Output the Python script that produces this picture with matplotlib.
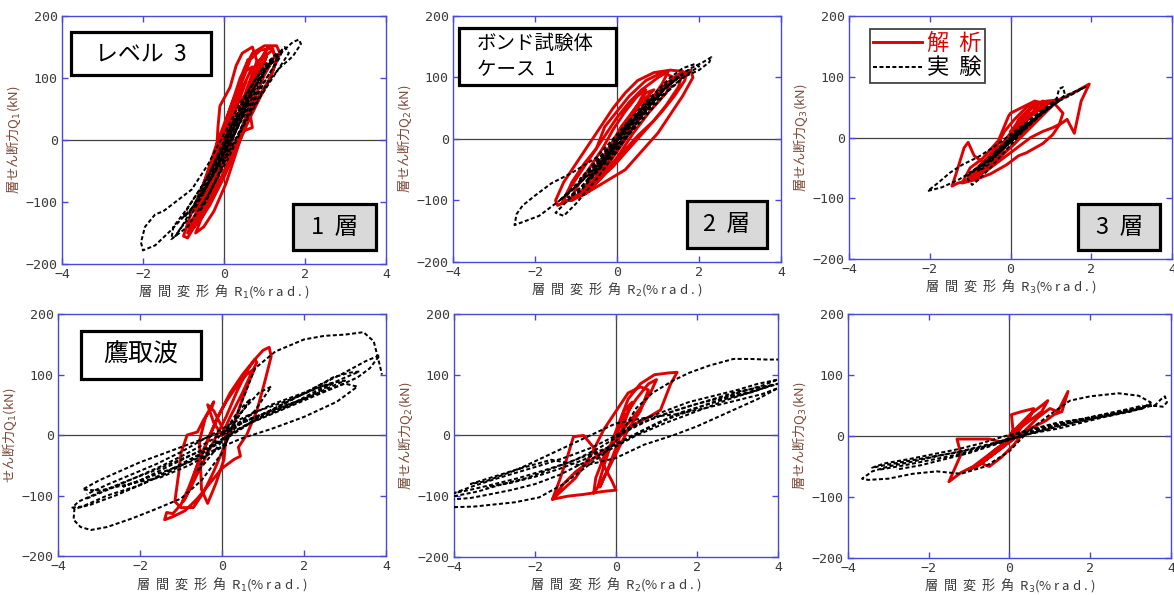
import matplotlib
matplotlib.use('Agg')
import matplotlib.pyplot as plt
from matplotlib.patches import Rectangle

plt.rcParams['font.family'] = ['Noto Sans CJK JP', 'DejaVu Sans']

x_ticks = [-4, -2, 0, 2, 4]
y_ticks = [-200, -100, 0, 100, 200]

# レベル3 / 1層
p1_red = [(0, 0), (0.25, 45), (0.5, 90), (0.7, 118), (0.55, 112), (0.2, 60), (-0.2, -10), (-0.5, -70),
          (-0.7, -115), (-0.55, -112), (-0.2, -60), (0.2, 10), (0.6, 85), (0.9, 130), (1.1, 150), (1.0, 140),
          (0.7, 90), (0.4, 40), (0.1, -20), (-0.3, -80), (-0.6, -125), (-0.9, -158), (-1.0, -155), (-0.85, -125),
          (-0.5, -70), (-0.2, -20), (0.1, 40), (0.4, 100), (0.7, 140), (1.0, 152), (1.3, 152), (1.38, 140),
          (1.1, 95), (0.8, 65), (0.65, 40), (0.7, 20), (0.5, 15), (0.2, -10), (-0.1, -50), (-0.4, -90),
          (-0.7, -120), (-0.9, -140), (-0.75, -135), (-0.45, -95), (-0.2, -40), (-0.15, 20), (-0.1, 55),
          (0.15, 85), (0.3, 120), (0.45, 140), (0.7, 150), (0.85, 120), (0.75, 80), (0.55, 40), (0.3, -5),
          (0.0, -50), (-0.3, -95), (-0.6, -130), (-0.8, -145), (-0.6, -120), (-0.3, -75), (0.0, -25), (0.3, 30),
          (0.55, 80), (0.8, 125), (1.2, 145), (1.3, 130), (1.15, 100), (0.9, 70), (0.6, 30), (0.3, -15),
          (0.0, -60), (-0.35, -105), (-0.65, -135), (-0.5, -120), (-0.2, -70), (0.1, -10), (0.35, 40),
          (0.5, 70), (0.35, 60), (0.1, 20), (-0.2, -30), (-0.45, -80), (-0.3, -70), (0.0, -20)]
p1_red_b = [(0.0, -30), (0.3, 20), (0.6, 70), (0.9, 110), (1.05, 135), (0.95, 120), (0.75, 90), (0.5, 50),
            (0.25, 10), (-0.05, -40), (-0.35, -90), (-0.6, -125), (-0.75, -140), (-0.9, -150), (-0.8, -135),
            (-0.55, -95), (-0.3, -50), (-0.05, 0), (0.2, 50), (0.45, 95), (0.65, 130), (0.9, 145), (1.2, 148),
            (1.25, 135), (1.0, 105), (0.8, 75), (0.55, 30), (0.3, -20), (0.05, -70), (-0.25, -115), (-0.5, -140),
            (-0.7, -150), (-0.55, -125), (-0.3, -80), (-0.1, -30), (0.1, 20), (0.3, 70), (0.5, 110), (0.6, 130),
            (0.5, 115), (0.3, 75), (0.1, 30), (-0.15, -20), (-0.4, -75), (-0.55, -105), (-0.4, -85),
            (-0.15, -40), (0.1, 10), (0.35, 60), (0.55, 95), (0.4, 80), (0.2, 35), (0.0, -10), (-0.25, -55),
            (-0.35, -75), (-0.2, -50), (0.0, 0)]
p1_black = [(0, 0), (0.5, 60), (1.0, 110), (1.4, 140), (1.7, 158), (1.85, 162), (1.9, 155), (1.7, 135),
            (1.4, 118), (1.1, 95), (0.6, 40), (0.2, -10), (-0.3, -60), (-0.8, -110), (-1.3, -145), (-1.7, -170),
            (-2.0, -178), (-2.05, -165), (-1.95, -140), (-1.7, -120), (-1.5, -115), (-1.2, -100), (-0.8, -80),
            (-0.4, -40), (0.0, 10), (0.4, 60), (0.8, 100), (1.2, 130), (1.5, 150), (1.6, 140), (1.3, 110),
            (0.9, 70), (0.5, 25), (0.1, -30), (-0.4, -90), (-0.9, -140), (-1.3, -160), (-1.25, -140),
            (-0.9, -110), (-0.4, -60), (0.0, -10), (0.4, 40), (0.8, 90), (1.1, 120), (1.3, 130), (1.2, 115),
            (0.9, 85), (0.5, 40), (0.1, -10), (-0.3, -60), (-0.7, -105), (-1.0, -125), (-0.9, -110),
            (-0.5, -70), (-0.1, -20), (0.3, 30), (0.7, 80), (1.0, 115), (0.95, 100), (0.6, 55), (0.2, 5),
            (-0.2, -45), (-0.6, -90), (-0.5, -85), (-0.1, -35), (0.3, 15), (0.6, 60), (0.5, 55), (0.2, 15),
            (-0.2, -35), (-0.4, -60), (-0.2, -40), (0.1, 0), (0.35, 40), (0.2, 25), (0.0, 0)]
p1_black_core = [(0, 0), (0.3, 40), (0.6, 80), (0.9, 110), (1.2, 130), (1.0, 110), (0.7, 75), (0.4, 35),
                 (0.1, -5), (-0.2, -45), (-0.5, -85), (-0.8, -120), (-1.1, -145), (-1.2, -155), (-1.0, -135),
                 (-0.7, -100), (-0.4, -60), (-0.1, -15), (0.2, 25), (0.5, 65), (0.8, 100), (1.0, 120), (1.3, 140),
                 (1.45, 145), (1.35, 130), (1.1, 105), (0.8, 70), (0.5, 30), (0.2, -10), (-0.1, -50), (-0.4, -90),
                 (-0.6, -115), (-0.45, -100), (-0.2, -65), (0.05, -25), (0.3, 15), (0.55, 55), (0.75, 85),
                 (0.6, 70), (0.35, 35), (0.1, -5), (-0.15, -40), (-0.3, -60), (-0.15, -40), (0.1, 0)]

# レベル3 / 2層
p2_red = [(0, 0), (0.3, 30), (0.6, 60), (0.9, 80), (0.7, 75), (0.3, 35), (-0.1, -10), (-0.5, -50), (-0.8, -80),
          (-0.6, -78), (-0.2, -40), (0.3, 10), (0.8, 60), (1.2, 90), (1.5, 105), (1.8, 112), (1.85, 100),
          (1.6, 70), (1.3, 40), (1.0, 10), (0.6, -20), (0.2, -50), (-0.3, -70), (-0.8, -90), (-1.2, -100),
          (-1.45, -108), (-1.5, -100), (-1.3, -70), (-1.0, -40), (-0.7, -10), (-0.4, 20), (-0.1, 50), (0.2, 75),
          (0.5, 95), (0.9, 108), (1.3, 112), (1.6, 110), (1.5, 85), (1.2, 55), (0.9, 30), (0.5, 5), (0.1, -25),
          (-0.3, -55), (-0.7, -85), (-1.1, -100), (-1.3, -100), (-1.1, -70), (-0.8, -40), (-0.5, -15),
          (-0.3, 20), (0.0, 45), (0.3, 70), (0.7, 95), (1.1, 108), (1.4, 100), (1.2, 75), (0.8, 45), (0.4, 10),
          (0.0, -30), (-0.4, -65), (-0.8, -90), (-1.0, -95), (-0.8, -80), (-0.5, -50), (-0.2, -15), (0.1, 20),
          (0.5, 55), (0.8, 70), (0.6, 50), (0.3, 20), (0.0, -15), (-0.3, -50), (-0.6, -70), (-0.4, -50),
          (0.0, -10)]
p2_red_b = [(0, -20), (0.4, 20), (0.8, 55), (1.2, 85), (1.5, 100), (1.7, 108), (1.65, 95), (1.4, 70), (1.1, 45),
            (0.7, 15), (0.3, -15), (-0.1, -45), (-0.5, -70), (-0.9, -90), (-1.2, -100), (-1.35, -105),
            (-1.2, -85), (-0.9, -55), (-0.6, -25), (-0.3, 5), (0.0, 35), (0.3, 60), (0.6, 80), (1.0, 100),
            (1.25, 110), (1.1, 90), (0.8, 60), (0.5, 30), (0.2, 0), (-0.2, -35), (-0.6, -70), (-0.95, -90),
            (-1.15, -100), (-0.95, -75), (-0.65, -45), (-0.35, -15), (-0.1, 15), (0.2, 45), (0.5, 70), (0.7, 80),
            (0.5, 55), (0.2, 25), (-0.1, -10), (-0.4, -45), (-0.7, -65), (-0.5, -45), (-0.2, -15), (0.1, 15),
            (0.3, 35), (0.1, 10), (0, 0)]
p2_black = [(0, 0), (0.6, 45), (1.2, 90), (1.8, 115), (2.1, 125), (2.3, 133), (2.25, 125), (2.0, 112), (1.6, 100),
            (1.0, 65), (0.4, 20), (-0.2, -25), (-0.8, -65), (-1.4, -100), (-1.9, -125), (-2.3, -135), (-2.5, -140),
            (-2.45, -122), (-2.3, -108), (-2.0, -92), (-1.6, -72), (-1.1, -55), (-0.5, -30), (0.1, 15), (0.7, 60),
            (1.3, 100), (1.6, 115), (1.9, 122), (2.0, 118), (1.7, 105), (1.2, 75), (0.6, 30), (0.0, -15),
            (-0.6, -60), (-1.2, -100), (-1.5, -120), (-1.3, -125), (-1.0, -105), (-0.5, -65), (0.0, -20),
            (0.5, 30), (1.0, 70), (1.4, 95), (1.5, 100), (1.2, 85), (0.7, 45), (0.2, 0), (-0.3, -40), (-0.9, -85),
            (-1.2, -95), (-0.9, -80), (-0.4, -40), (0.1, 5), (0.6, 50), (0.9, 70), (0.6, 45), (0.1, 0),
            (-0.4, -45), (-0.7, -65), (-0.4, -40), (0.0, 0), (0.3, 30), (0.1, 10), (0.0, 0)]
p2_black_core = [(0, 0), (0.4, 30), (0.8, 60), (1.2, 85), (1.6, 105), (1.3, 90), (0.9, 65), (0.5, 35), (0.1, 5),
                 (-0.3, -25), (-0.7, -55), (-1.1, -80), (-1.4, -100), (-1.2, -90), (-0.8, -65), (-0.4, -35),
                 (0.0, -5), (0.4, 25), (0.8, 55), (1.1, 75), (0.9, 65), (0.5, 40), (0.1, 10), (-0.3, -20),
                 (-0.7, -50), (-0.9, -65), (-0.6, -45), (-0.2, -15), (0.2, 15), (0.6, 45), (0.4, 30), (0, 0)]

# レベル3 / 3層
p3_red = [(0, 0), (0.3, 25), (0.6, 45), (0.9, 58), (0.6, 55), (0.2, 25), (-0.2, -10), (-0.6, -40), (-0.9, -60),
          (-0.7, -58), (-0.3, -30), (0.1, 5), (0.5, 35), (0.9, 55), (1.3, 65), (1.6, 75), (1.95, 88), (1.75, 60),
          (1.58, 7), (1.4, 30), (1.28, 24), (1.04, 16), (0.8, 10), (0.5, 0), (0.2, -15), (-0.2, -35), (-0.6, -55),
          (-1.0, -70), (-1.3, -75), (-1.45, -80), (-1.35, -60), (-1.15, -17), (-1.05, -8), (-0.9, -30),
          (-0.6, -45), (-0.3, -30), (0.0, 0), (0.2, 30), (0.5, 50), (0.8, 60), (1.1, 55), (1.3, 40), (1.2, 20),
          (1.05, 5), (0.8, -10), (0.45, -23), (0.4, -25), (0.2, -30), (-0.1, -45), (-0.5, -60), (-0.9, -70),
          (-1.2, -75), (-1.0, -50), (-0.7, -35), (-0.3, -5), (-0.05, 35), (0.0, 40), (0.3, 50), (0.6, 60),
          (0.9, 55), (0.7, 35), (0.4, 15), (0.1, -10), (-0.3, -35), (-0.7, -55), (-0.9, -60), (-0.6, -40),
          (-0.2, -10), (0.2, 20), (0.5, 40), (0.3, 30), (0.0, 0)]
p3_red_b = [(0, 10), (0.3, 35), (0.6, 52), (0.9, 60), (1.2, 62), (1.0, 50), (0.7, 30), (0.4, 10), (0.1, -10),
            (-0.2, -28), (-0.5, -45), (-0.8, -60), (-1.05, -68), (-0.9, -55), (-0.6, -35), (-0.35, -15),
            (-0.15, 10), (0.1, 30), (0.4, 50), (0.7, 58), (0.55, 40), (0.3, 20), (0.0, -5), (-0.3, -25),
            (-0.6, -45), (-0.8, -55), (-0.6, -40), (-0.3, -20), (0.0, 5), (0.25, 25), (0.1, 15), (0, 0)]
p3_black = [(0, 0), (0.5, 30), (1.0, 55), (1.4, 70), (1.85, 83), (1.5, 70), (1.2, 60), (0.8, 40), (0.3, 10),
            (-0.3, -25), (-0.8, -50), (-1.3, -70), (-1.7, -82), (-2.05, -88), (-1.8, -75), (-1.5, -58),
            (-1.2, -45), (-0.8, -32), (-0.4, -15), (0.0, 5), (0.5, 30), (0.9, 50), (1.15, 65), (1.2, 80),
            (1.3, 83), (1.35, 70), (1.15, 58), (0.8, 42), (0.3, 15), (-0.2, -18), (-0.7, -45), (-1.1, -65),
            (-0.95, -78), (-0.8, -70), (-0.5, -50), (-0.1, -20), (0.3, 10), (0.7, 35), (1.0, 50), (0.8, 42),
            (0.4, 18), (0.0, -8), (-0.4, -32), (-0.8, -55), (-0.6, -48), (-0.2, -20), (0.2, 8), (0.6, 30),
            (0.4, 22), (0.0, 0), (-0.4, -25), (-0.2, -15), (0, 0)]
p3_black_core = [(0, 0), (0.3, 18), (0.6, 35), (0.9, 48), (1.2, 60), (1.0, 52), (0.7, 38), (0.4, 20), (0.1, 2),
                 (-0.2, -15), (-0.5, -32), (-0.8, -48), (-1.0, -58), (-0.8, -50), (-0.5, -35), (-0.2, -18),
                 (0.1, 0), (0.4, 18), (0.7, 35), (0.55, 28), (0.25, 10), (-0.05, -8), (-0.35, -25), (-0.55, -38),
                 (-0.35, -25), (0, 0)]

# 鷹取波 / 1層
p4_red = [(0, 0), (0.2, 30), (0.5, 70), (0.7, 100), (0.85, 120), (0.8, 125), (0.6, 105), (0.35, 70), (0.1, 30),
          (-0.2, -10), (-0.5, -50), (-0.75, -85), (-0.9, -105), (-0.95, -110), (-0.8, -90), (-0.6, -50),
          (-0.35, -10), (-0.1, 30), (0.2, 70), (0.5, 100), (0.8, 125), (1.0, 140), (1.15, 145), (1.2, 130),
          (1.05, 90), (0.85, 40), (0.6, 0), (0.4, -20), (0.45, -35), (0.3, -40), (0.0, -55), (-0.3, -80),
          (-0.6, -105), (-0.9, -125), (-1.2, -135), (-1.4, -140), (-1.35, -128), (-1.2, -130), (-1.0, -115),
          (-0.8, -85), (-0.55, -40), (-0.3, 0), (-0.1, 30), (0.1, 55), (0.35, 80), (0.6, 100), (0.8, 110),
          (0.7, 95), (0.5, 60), (0.3, 20), (0.05, -20), (-0.2, -60), (-0.45, -95), (-0.7, -120), (-1.0, -120),
          (-1.15, -110), (-1.05, -60), (-1.0, -30), (-0.85, 0), (-0.6, 5), (-0.45, 25), (-0.25, 45), (-0.2, 55),
          (-0.4, 30), (-0.55, -10), (-0.5, -90), (-0.35, -113), (-0.15, -80), (0.05, -40), (0.1, 0), (-0.2, 40),
          (-0.35, 50), (-0.2, 20), (0.0, 0)]
p4_black_outer = [(0, 0), (0.5, 20), (1.0, 35), (1.6, 55), (2.2, 75), (2.7, 95), (3.1, 103), (3.35, 105),
                  (3.0, 95), (2.5, 80), (1.8, 55), (1.1, 35), (0.4, 10), (-0.3, -20), (-1.0, -40), (-1.7, -60),
                  (-2.4, -78), (-3.0, -95), (-3.5, -110), (-3.65, -120), (-3.4, -118), (-2.8, -100), (-2.1, -85),
                  (-1.4, -65), (-0.7, -40), (0.0, -10), (0.7, 20), (1.4, 40), (2.1, 60), (2.8, 80), (3.3, 95),
                  (3.6, 110), (3.85, 132), (3.5, 122), (2.9, 100), (2.3, 80), (1.6, 55), (0.9, 30), (0.2, 0),
                  (-0.5, -30), (-1.2, -55), (-1.9, -80), (-2.6, -100), (-3.2, -115), (-3.6, -122), (-3.62, -140),
                  (-3.45, -152), (-3.2, -157), (-2.8, -152), (-2.2, -138), (-1.6, -122), (-1.0, -105), (-0.5, -75),
                  (0.0, -30), (0.4, 40), (0.8, 110), (1.3, 138), (2.0, 158), (2.5, 164), (3.0, 166), (3.45, 170),
                  (3.7, 155), (3.85, 115), (3.9, 100)]
p4_black_inner = [(0, 0), (0.6, 30), (1.2, 50), (1.8, 65), (2.4, 80), (2.7, 85), (2.3, 70), (1.7, 50), (1.0, 30),
                  (0.4, 10), (-0.2, -15), (-0.8, -35), (-1.4, -55), (-2.0, -75), (-2.4, -85), (-2.0, -75),
                  (-1.4, -60), (-0.8, -45), (-0.2, -25), (0.5, -5), (1.2, 10), (2.0, 30), (2.8, 55), (3.3, 80),
                  (3.0, 85), (2.2, 65), (1.4, 45), (0.6, 25), (0.0, 5), (-1.0, -20), (-2.0, -45), (-3.0, -75),
                  (-3.4, -90), (-3.0, -92), (-2.2, -80), (-1.5, -70), (-0.8, -50), (0.0, -20), (0.3, 10), (0.8, 40),
                  (1.2, 80), (0.9, 70), (0.5, 40), (0.1, 10), (-0.3, -20), (-0.6, -60), (-0.4, -45), (0.0, -10),
                  (0.4, 30), (0.7, 60), (0.4, 40), (0.0, 0)]
p4_black_extra = [(-3.3, -105), (-2.7, -88), (-2.1, -70), (-1.5, -52), (-0.9, -32), (-0.3, -10), (0.3, 15),
                  (0.9, 32), (1.5, 48), (2.1, 62), (2.6, 78), (3.0, 90), (2.6, 85), (2.0, 68), (1.4, 52), (0.8, 38),
                  (0.2, 18), (-0.4, -5), (-1.0, -28), (-1.6, -48), (-2.2, -65), (-2.8, -82), (-3.3, -98)]

# 鷹取波 / 2層
p5_red = [(0, 0), (0.2, 30), (0.5, 60), (0.8, 85), (1.0, 92), (0.85, 70), (0.6, 45), (0.3, 20), (0.0, -5),
          (-0.3, -35), (-0.5, -70), (-0.55, -95), (-0.45, -85), (-0.3, -50), (-0.1, -10), (0.1, 25), (0.3, 60),
          (0.6, 85), (0.95, 100), (1.3, 103), (1.51, 104), (1.35, 85), (1.1, 42), (0.8, 30), (0.5, 20), (0.2, 5),
          (-0.2, -20), (-0.6, -40), (-1.0, -60), (-1.3, -80), (-1.57, -105), (-1.4, -75), (-1.2, -35),
          (-1.05, -2), (-0.8, 0), (-0.55, -20), (-0.3, -50), (-0.1, -75), (0.0, -90), (-0.3, -92), (-0.8, -97),
          (-1.2, -100), (-1.57, -105), (-1.0, -70), (-0.6, -30), (-0.3, 10), (0.0, 40), (0.3, 70), (0.6, 80),
          (0.8, 75), (0.6, 40), (0.3, 10), (0.0, -30), (-0.3, -70), (-0.4, -85), (-0.2, -55), (0.0, -20),
          (0.2, 20), (0.4, 55), (0.2, 40), (0.0, 0)]
p5_black_outer = [(0, 0), (0.6, 25), (1.2, 40), (1.8, 55), (2.4, 65), (3.0, 75), (3.5, 85), (4.0, 92), (3.6, 82),
                  (3.0, 70), (2.4, 55), (1.8, 40), (1.2, 25), (0.6, 5), (0.0, -15), (-0.6, -30), (-1.2, -45),
                  (-1.8, -58), (-2.4, -70), (-3.0, -80), (-3.5, -88), (-4.0, -95), (-3.6, -85), (-3.0, -72),
                  (-2.4, -60), (-1.8, -48), (-1.2, -35), (-0.6, -20), (0.0, 0), (0.6, 20), (1.2, 35), (1.8, 48),
                  (2.4, 60), (3.0, 72), (3.6, 80), (4.0, 85), (3.5, 75), (2.8, 60), (2.0, 40), (1.2, 20), (0.5, 0),
                  (-0.2, -25), (-0.8, -45), (-1.4, -65), (-2.0, -80), (-2.6, -90), (-3.2, -98), (-3.6, -103),
                  (-4.0, -105)]
p5_black_big = [(-4.0, -118), (-3.5, -117), (-2.5, -110), (-1.9, -102), (-1.3, -80), (-0.8, -55), (-0.3, -30),
                (0.0, -10), (0.5, 45), (0.9, 70), (1.4, 90), (1.8, 103), (2.3, 115), (2.9, 126), (3.3, 126),
                (3.7, 125), (4.0, 125)]
p5_black_lower = [(-3.6, -80), (-2.4, -55), (-1.6, -40), (-0.8, -50), (0.0, -37), (0.7, -15), (1.4, 0), (2.0, 15),
                  (2.5, 30), (3.0, 45), (3.5, 60), (4.0, 78), (3.6, 68), (3.0, 58), (2.2, 45), (1.5, 35), (0.8, 30),
                  (0.0, 20), (-0.8, -5), (-1.6, -30), (-2.4, -55), (-3.2, -75), (-3.6, -80)]
p5_black_extra = [(-4.0, -100), (-3.4, -92), (-2.8, -80), (-2.2, -70), (-1.6, -55), (-1.0, -40), (-0.4, -20),
                  (0.2, 5), (0.8, 25), (1.4, 40), (2.0, 52), (2.6, 62), (3.2, 70), (3.8, 82), (3.4, 72), (2.8, 62),
                  (2.2, 50), (1.6, 38), (1.0, 20), (0.4, 0), (-0.2, -20), (-0.8, -40), (-1.4, -55), (-2.0, -68),
                  (-2.6, -78), (-3.2, -85)]

# 鷹取波 / 3層
p6_red = [(0, 0), (0.2, 15), (0.5, 35), (0.8, 50), (0.95, 58), (0.8, 40), (0.5, 25), (0.2, 10), (-0.1, -10),
          (-0.4, -25), (-0.7, -45), (-0.5, -50), (-0.2, -35), (0.1, -15), (0.4, 10), (0.7, 30), (1.0, 45),
          (1.2, 40), (1.45, 73), (1.3, 40), (1.1, 35), (0.9, 25), (0.6, 15), (0.3, 5), (0.0, -10), (-0.3, -20),
          (-0.6, -35), (-0.9, -50), (-1.2, -60), (-1.5, -75), (-1.4, -60), (-1.2, -30), (-1.3, -5), (-0.9, -5),
          (-0.5, -5), (-0.2, -10), (0.1, 0), (0.05, 35), (0.3, 40), (0.6, 45), (0.5, 30), (0.2, 10), (-0.1, -15),
          (-0.4, -30), (-0.7, -45), (-1.0, -55), (-0.8, -50), (-0.5, -35), (-0.2, -20), (0.1, -5), (0.3, 15),
          (0.1, 10), (0.0, 0)]
p6_black = [(0, 0), (0.6, 12), (1.2, 22), (1.8, 28), (2.4, 35), (3.0, 42), (3.4, 48), (3.6, 50), (3.75, 60),
            (3.85, 65), (3.9, 55), (3.8, 48), (3.5, 50), (3.0, 40), (2.4, 32), (1.8, 22), (1.2, 12), (0.6, 5),
            (0.0, -5), (-0.6, -15), (-1.2, -25), (-1.8, -33), (-2.4, -42), (-3.0, -50), (-3.4, -58), (-3.65, -70),
            (-3.5, -72), (-3.0, -70), (-2.4, -62), (-1.8, -58), (-1.2, -62), (-0.6, -50), (0.0, -25), (0.5, 10),
            (1.0, 35), (1.5, 58), (2.0, 65), (2.7, 70), (3.2, 66), (3.5, 55), (3.3, 45), (2.8, 38), (2.2, 30),
            (1.6, 22), (1.0, 12), (0.4, 2), (-0.2, -10), (-0.8, -20), (-1.4, -28), (-2.0, -35), (-2.6, -42),
            (-3.1, -48), (-3.4, -52), (-3.1, -45), (-2.5, -38), (-1.9, -30), (-1.3, -22), (-0.7, -12), (-0.1, 0),
            (0.5, 10), (1.1, 18), (1.8, 28), (2.5, 38), (3.0, 45), (3.3, 50)]
p6_black_extra = [(-3.2, -55), (-2.6, -48), (-2.0, -40), (-1.4, -32), (-0.8, -22), (-0.2, -8), (0.4, 5),
                  (1.0, 15), (1.6, 25), (2.2, 32), (2.8, 40), (3.3, 48), (3.5, 52), (3.2, 45), (2.6, 36),
                  (2.0, 28), (1.4, 20), (0.8, 10), (0.2, -2), (-0.4, -15), (-1.0, -28), (-1.6, -38), (-2.2, -48),
                  (-2.8, -55)]

red = '#e00000'
frame_blue = '#4848dc'
label_brown = '#7a4a38'
exp_style = (0, (2, 1.2))


def draw_red(ax, pts, label=None):
    xs, ys = zip(*pts)
    return ax.plot(xs, ys, color=red, lw=2.1, zorder=3, label=label)[0]


def draw_black(ax, pts, label=None):
    xs, ys = zip(*pts)
    return ax.plot(xs, ys, color='black', lw=1.45, linestyle=exp_style, zorder=4, label=label)[0]


def style(ax, ylabel, sub):
    ax.set_xlim(-4, 4)
    ax.set_ylim(-200, 200)
    ax.set_xticks(x_ticks)
    ax.set_yticks(y_ticks)
    for s in ax.spines.values():
        s.set_color(frame_blue)
        s.set_linewidth(1.0)
    ax.tick_params(direction='in', length=4, width=1, color=frame_blue, top=True, right=True,
                   labelsize=9.5, labelcolor='#3a3a3a', labelfontfamily='DejaVu Sans Mono', pad=3)
    ax.axhline(0, color='#404040', lw=0.9, zorder=1)
    ax.axvline(0, color='#404040', lw=0.9, zorder=1)
    ax.set_xlabel('層  間  変  形  角  R$_' + sub + '$(% r a d . )', fontsize=9.5, color='#3a3a3a',
                  labelpad=1)
    ax.set_ylabel(ylabel, fontsize=9.5, color=label_brown, labelpad=2)


def box(ax, x0, y0, x1, y1, text, fill, size, tx=None):
    ax.add_patch(Rectangle((x0, y0), x1 - x0, y1 - y0, transform=ax.transAxes, facecolor=fill,
                           edgecolor='black', lw=2.3, zorder=6, clip_on=False))
    if tx is None:
        ax.text((x0 + x1) / 2, (y0 + y1) / 2, text, transform=ax.transAxes, ha='center', va='center',
                fontsize=size, zorder=7)
    else:
        ax.text(tx, (y0 + y1) / 2, text, transform=ax.transAxes, ha='left', va='center',
                fontsize=size, zorder=7, linespacing=1.35)


fig = plt.figure(figsize=(11.74, 5.95), dpi=100)
ax1 = fig.add_axes([0.0528, 0.5563, 0.2760, 0.4168])
ax2 = fig.add_axes([0.3859, 0.5597, 0.2794, 0.4134])
ax3 = fig.add_axes([0.7232, 0.5647, 0.2751, 0.4084])
ax4 = fig.add_axes([0.0494, 0.0655, 0.2794, 0.4067])
ax5 = fig.add_axes([0.3867, 0.0639, 0.2760, 0.4084])
ax6 = fig.add_axes([0.7223, 0.0622, 0.2751, 0.4101])

# top row: level 3
draw_red(ax1, p1_red)
draw_red(ax1, p1_red_b)
draw_black(ax1, p1_black)
draw_black(ax1, p1_black_core)
style(ax1, '層せん断力Q$_1$(kN)', '1')
box(ax1, 0.028, 0.762, 0.46, 0.935, 'レベル  3', 'white', 16.5)
box(ax1, 0.713, 0.056, 0.969, 0.242, '1  層', '#d9d9d9', 17)

draw_red(ax2, p2_red)
draw_red(ax2, p2_red_b)
draw_black(ax2, p2_black)
draw_black(ax2, p2_black_core)
style(ax2, '層せん断力Q$_2$(kN)', '2')
box(ax2, 0.018, 0.72, 0.497, 0.951, 'ボンド試験体\nケース  1', 'white', 14, tx=0.073)
box(ax2, 0.713, 0.057, 0.957, 0.248, '2  層', '#d9d9d9', 17)

h_red = draw_red(ax3, p3_red, '解  析')
draw_red(ax3, p3_red_b)
h_blk = draw_black(ax3, p3_black, '実  験')
draw_black(ax3, p3_black_core)
style(ax3, '層せん断力Q$_3$(kN)', '3')
box(ax3, 0.71, 0.037, 0.963, 0.226, '3  層', '#d9d9d9', 17)
leg = ax3.legend(handles=[h_red, h_blk], loc='upper left', bbox_to_anchor=(0.065, 0.947), fontsize=16,
                 labelcolor=[red, 'black'], frameon=True, fancybox=False, framealpha=1, handlelength=2.2,
                 handletextpad=0.2, borderaxespad=0, borderpad=0.15, labelspacing=0.05)
leg.get_frame().set_edgecolor('#333333')
leg.get_frame().set_linewidth(1.2)

# bottom row: 鷹取波
draw_black(ax4, p4_black_outer)
draw_black(ax4, p4_black_inner)
draw_black(ax4, p4_black_extra)
draw_red(ax4, p4_red)
style(ax4, 'せん断力Q$_1$(kN)', '1')
box(ax4, 0.07, 0.731, 0.436, 0.93, '鷹取波', 'white', 18)

draw_black(ax5, p5_black_outer)
draw_black(ax5, p5_black_big)
draw_black(ax5, p5_black_lower)
draw_black(ax5, p5_black_extra)
draw_red(ax5, p5_red)
style(ax5, '層せん断力Q$_2$(kN)', '2')

draw_black(ax6, p6_black)
draw_black(ax6, p6_black_extra)
draw_red(ax6, p6_red)
style(ax6, '層せん断力Q$_3$(kN)', '3')

fig.savefig('out.png', dpi=100)
